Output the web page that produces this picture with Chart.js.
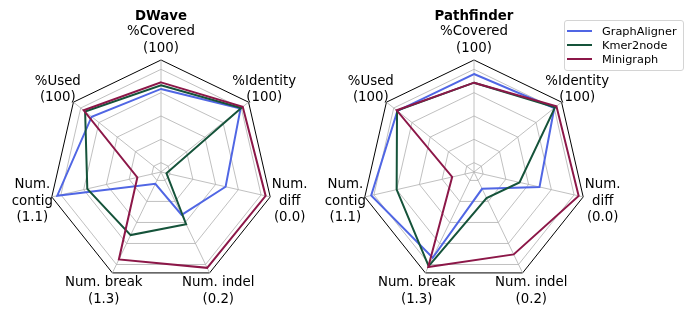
<!DOCTYPE html>
<html>
<head>
<meta charset="utf-8">
<script src="https://cdn.jsdelivr.net/npm/chart.js@4.4.1/dist/chart.umd.min.js"></script>
<style>
  html, body { margin: 0; padding: 0; background: #ffffff; }
  #wrap { position: relative; width: 692px; height: 314px; overflow: hidden; }
  #wrap canvas { position: absolute; left: 0; top: 0; }
  #legend {
    position: absolute; left: 564px; top: 20px; width: 120px; height: 51px;
    box-sizing: border-box; border: 1px solid #d4d4d4; border-radius: 3px;
    background: rgba(255, 255, 255, 0.8); padding-top: 3px;
    font-family: "DejaVu Sans", sans-serif; font-size: 11.3px; color: #000;
  }
  #legend .row { height: 14px; display: flex; align-items: center; }
  #legend .swatch { width: 25px; height: 2px; margin-left: 2px; margin-right: 10px; }
</style>
</head>
<body>
<div id="wrap">
  <canvas id="dwaveChart" width="692" height="314"></canvas>
  <canvas id="pathfinderChart" width="692" height="314"></canvas>
  <div id="legend"></div>
</div>
<script>
// Etichette degli assi (una riga per elemento) e valori normalizzati.
const axisLabels = [
  ["%Covered", "(100)"],
  ["%Identity", "(100)"],
  ["Num.", "diff", "(0.0)"],
  ["Num. indel", "(0.2)"],
  ["Num. break", "(1.3)"],
  ["Num.", "contig", "(1.1)"],
  ["%Used", "(100)"],
];
const seriesNames = ["GraphAligner", "Kmer2node", "Minigraph"];
const seriesColors = ["#5066e4", "#15533a", "#8c1748"];

const dwaveGraphAligner = [0.79, 0.99, 0.61, 0.41, 0.04, 1.04, 0.85];
const dwaveKmer2node = [0.83, 1.0, -0.04, 0.52, 0.65, 0.71, 0.94];
const dwaveMinigraph = [0.86, 1.02, 1.05, 1.04, 0.94, 0.16, 0.96];

const pathfinderGraphAligner = [0.95, 1.0, 0.62, 0.1, 0.92, 1.03, 0.95];
const pathfinderKmer2node = [0.857, 1.01, 0.4, 0.21, 1.02, 0.75, 0.955];
const pathfinderMinigraph = [0.857, 1.03, 1.05, 0.88, 1.03, 0.14, 0.96];

const ringValues = [-0.1, 0, 0.25, 0.5, 0.75, 1.0, 1.1];

// Disegna titolo ed etichette degli assi centrate a distanza fissa dal centro.
const axisLabelPlugin = {
  id: "axisLabels",
  afterDraw(chart, args, opts) {
    const scale = chart.scales.r;
    const ctx = chart.ctx;
    ctx.save();
    ctx.fillStyle = "#000";
    ctx.textAlign = "center";
    ctx.textBaseline = "middle";
    ctx.font = "13.33px 'DejaVu Sans'";
    const lineH = 16.6;
    axisLabels.forEach((lines, i) => {
      const pos = scale.getPointPosition(i, 132);
      const y0 = pos.y - ((lines.length - 1) * lineH) / 2;
      lines.forEach((line, k) => ctx.fillText(line, pos.x, y0 + k * lineH));
    });
    ctx.font = "bold 13.33px 'DejaVu Sans'";
    ctx.fillText(opts.title, scale.xCenter, 16.5);
    ctx.restore();
  },
};

function createRadar(canvasId, title, seriesData, padding) {
  const ctx = document.getElementById(canvasId).getContext("2d");
  new Chart(ctx, {
    type: "radar",
    data: {
      labels: axisLabels,
      datasets: seriesData.map((values, i) => ({
        label: seriesNames[i],
        data: values,
        borderColor: seriesColors[i],
        borderWidth: 2,
        fill: false,
        pointRadius: 0,
        tension: 0,
        order: seriesData.length - i,
      })),
    },
    options: {
      responsive: false,
      animation: false,
      layout: { padding: padding },
      plugins: {
        legend: { display: false },
        tooltip: { enabled: false },
        axisLabels: { title: title },
      },
      scales: {
        r: {
          min: -0.1,
          max: 1.1,
          afterBuildTicks: (scale) => {
            scale.ticks = ringValues.map((v) => ({ value: v }));
          },
          ticks: { display: false },
          pointLabels: { display: false },
          grid: {
            color: (c) => (c.index === ringValues.length - 1 ? "#000000" : "#b0b0b0"),
            lineWidth: (c) => (c.index === ringValues.length - 1 ? 1 : 0.8),
          },
          angleLines: { color: "#b0b0b0", lineWidth: 0.8 },
        },
      },
    },
    plugins: [axisLabelPlugin],
  });
}

function renderLegend() {
  const legend = document.getElementById("legend");
  legend.innerHTML = seriesNames
    .map(
      (name, i) =>
        `<div class="row"><span class="swatch" style="background:${seriesColors[i]}"></span><span>${name}</span></div>`
    )
    .join("");
}

createRadar(
  "dwaveChart",
  "DWave",
  [dwaveGraphAligner, dwaveKmer2node, dwaveMinigraph],
  { left: 49, right: 419, top: 60, bottom: 30 }
);
createRadar(
  "pathfinderChart",
  "Pathfinder",
  [pathfinderGraphAligner, pathfinderKmer2node, pathfinderMinigraph],
  { left: 362, right: 106, top: 60, bottom: 30 }
);
renderLegend();
</script>
</body>
</html>
